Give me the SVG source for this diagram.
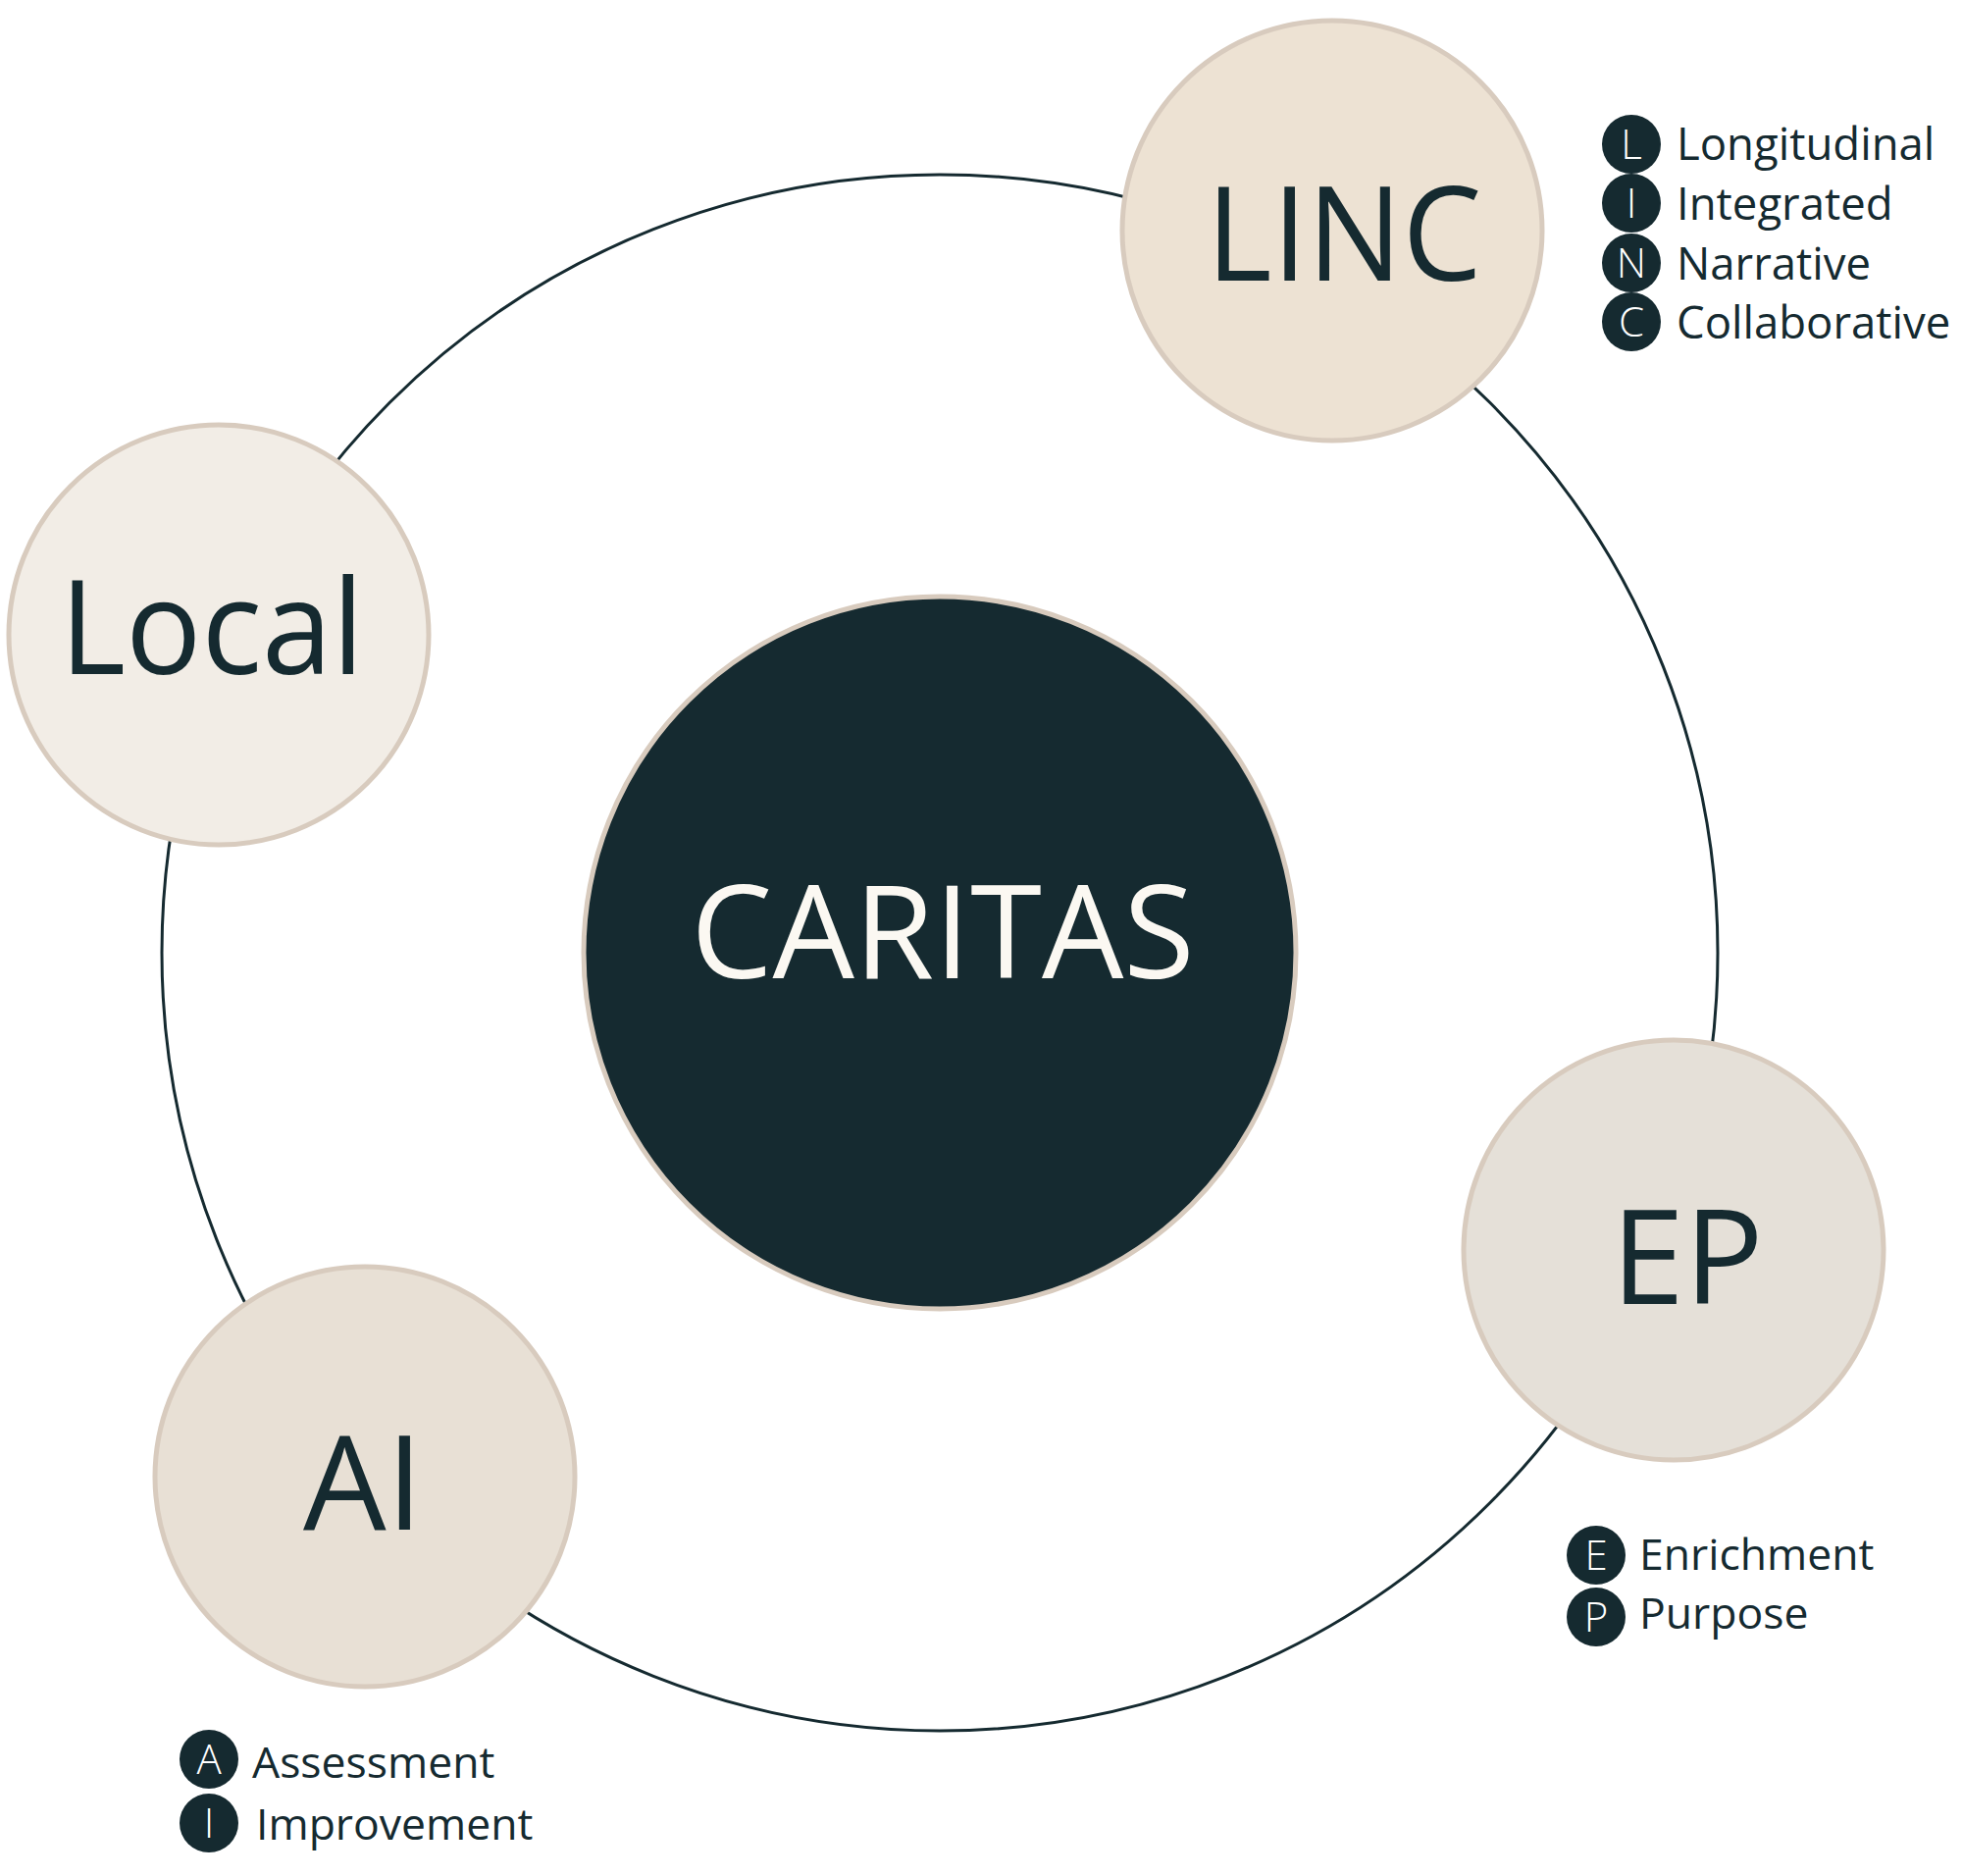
<svg xmlns="http://www.w3.org/2000/svg" width="2000" height="1912" viewBox="0 0 2000 1912">
<style>
.node{stroke:#D8CBBE;stroke-width:5}
.big{font-family:"Open Sans","Noto Sans","Liberation Sans",sans-serif;font-size:134px;fill:#152A30;text-anchor:middle}
.badge{fill:#152A30}
.bl{font-family:"Open Sans","Noto Sans","Liberation Sans",sans-serif;font-size:42px;font-weight:300;fill:#FFFFFF;text-anchor:middle}
.lg{font-family:"Open Sans","Noto Sans","Liberation Sans",sans-serif;font-size:44.5px;fill:#152A30}
</style>
<rect width="2000" height="1912" fill="#FFFFFF"/>
<g id="connectors">
<circle cx="958" cy="971" r="793" fill="none" stroke="#152A30" stroke-width="3"/>
</g>
<g id="caritas">
<circle cx="958" cy="971" r="363" fill="#152A30" stroke="#D8CBBE" stroke-width="5"/>
<text x="961" y="997" class="big" style="fill:#FBF8F2;font-size:132px">CARITAS</text>
</g>
<g id="linc">
<circle class="node" cx="1358" cy="235" r="214" fill="#EDE2D3"/>
<text x="1370" y="286" class="big" transform="matrix(0.96 0 0 1 54.8 0)">LINC</text>
</g>
<g id="linc-legend">
<circle class="badge" cx="1663" cy="147" r="30"/>
<circle class="badge" cx="1663" cy="207" r="30"/>
<circle class="badge" cx="1663" cy="268" r="30"/>
<circle class="badge" cx="1663" cy="328" r="30"/>
<text class="bl" x="1663" y="162">L</text>
<text class="bl" x="1663" y="222">I</text>
<text class="bl" x="1663" y="283">N</text>
<text class="bl" x="1663" y="343">C</text>
<text class="lg" x="1709" y="163" style="font-size:45.5px">Longitudinal</text>
<text class="lg" x="1709" y="224" style="font-size:45.5px">Integrated</text>
<text class="lg" x="1709" y="285" style="font-size:45.5px">Narrative</text>
<text class="lg" x="1709" y="345" style="font-size:45.5px">Collaborative</text>
</g>
<g id="local">
<circle class="node" cx="223" cy="647" r="214" fill="#F2EDE6"/>
<text x="216" y="687" class="big" transform="matrix(0.96 0 0 1 8.64 0)">Local</text>
</g>
<g id="ep">
<circle class="node" cx="1706" cy="1274" r="214" fill="#E5E0D8"/>
<text x="1720" y="1329" class="big">EP</text>
</g>
<g id="ep-legend">
<circle class="badge" cx="1627" cy="1585" r="30"/>
<circle class="badge" cx="1627" cy="1648" r="30"/>
<text class="bl" x="1627" y="1600">E</text>
<text class="bl" x="1627" y="1663">P</text>
<text class="lg" x="1671" y="1600">Enrichment</text>
<text class="lg" x="1671" y="1660">Purpose</text>
</g>
<g id="ai">
<circle class="node" cx="372" cy="1505" r="214" fill="#E8E0D5"/>
<text x="370" y="1559" class="big">AI</text>
</g>
<g id="ai-legend">
<circle class="badge" cx="213" cy="1793" r="30"/>
<circle class="badge" cx="213" cy="1858" r="30"/>
<text class="bl" x="213" y="1808">A</text>
<text class="bl" x="213" y="1873">I</text>
<text class="lg" x="257" y="1812">Assessment</text>
<text class="lg" x="261" y="1875">Improvement</text>
</g>
</svg>
